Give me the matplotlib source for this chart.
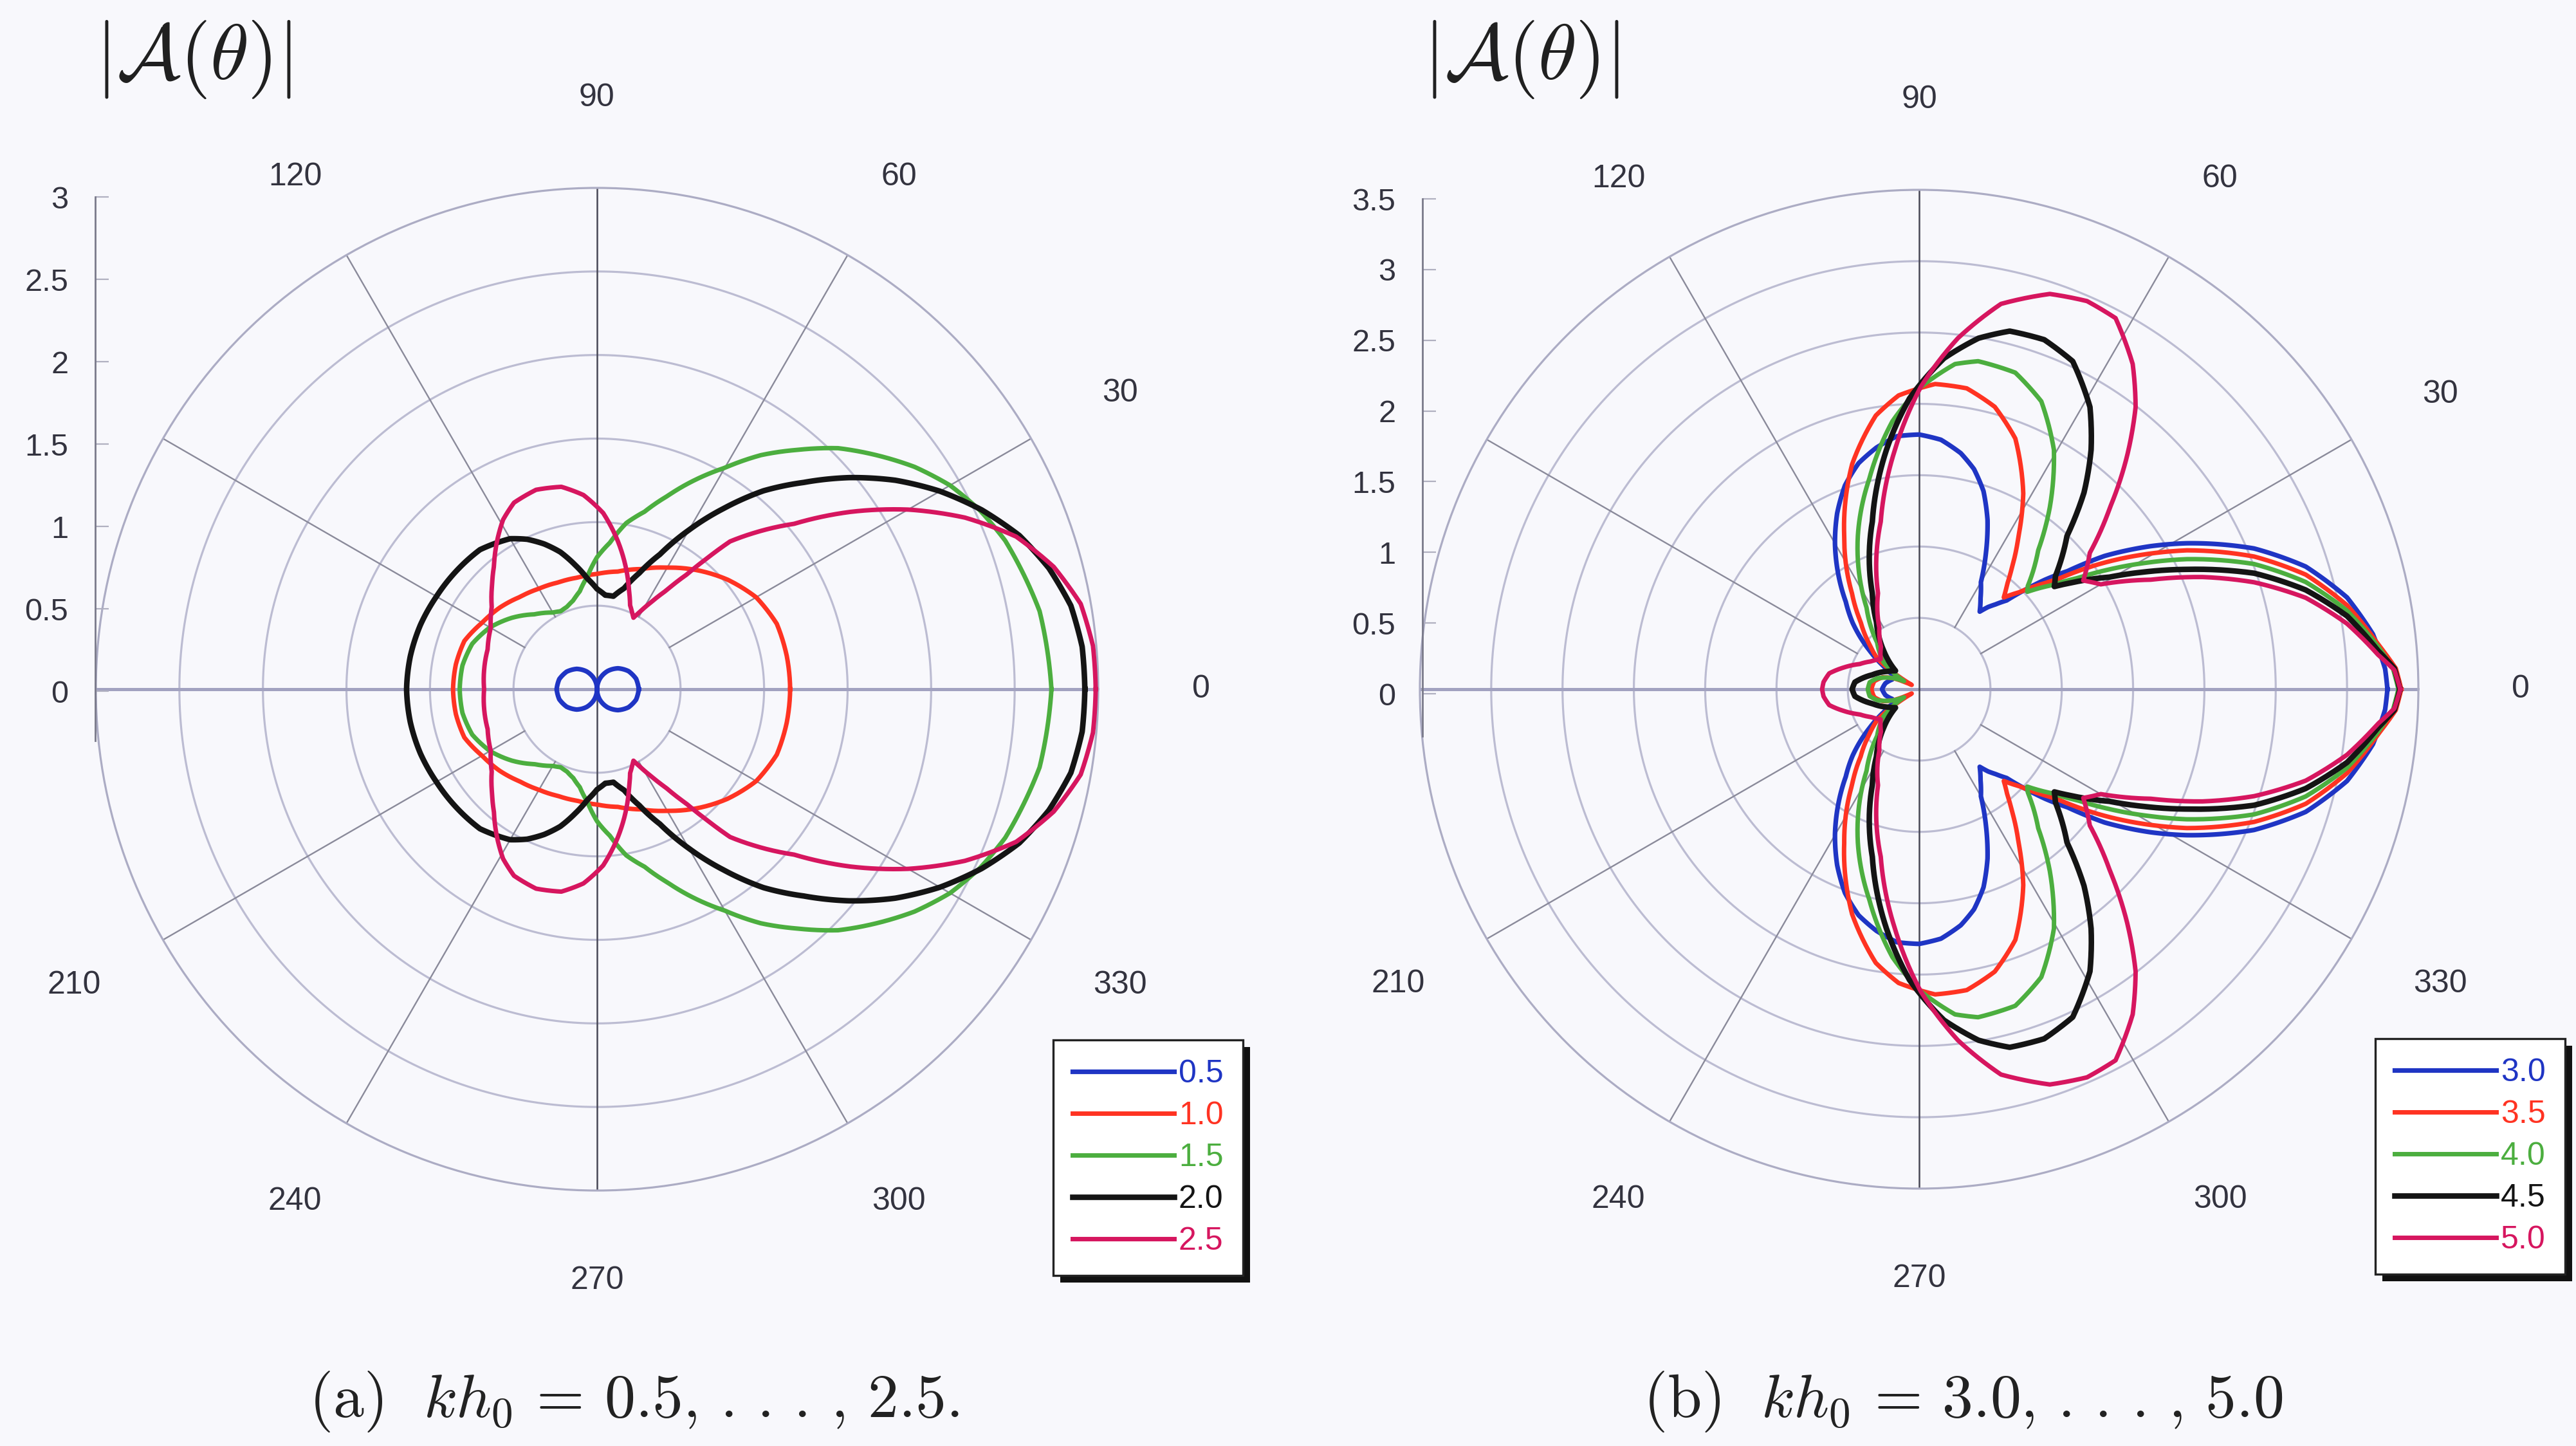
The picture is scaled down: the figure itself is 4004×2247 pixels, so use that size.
import numpy as np
import matplotlib
matplotlib.use('Agg')
import matplotlib.pyplot as plt
from matplotlib.patches import Rectangle

plt.rcParams['mathtext.fontset'] = 'cm'
plt.rcParams['font.family'] = ['Liberation Sans', 'DejaVu Sans']

# ---------------- data: upper half (0..180 deg); curves are symmetric ----------------
# Panel (a): kh0 = 0.5 ... 2.5
A_TH_05 = [0, 15, 30, 45, 60, 75, 90, 105, 120, 135, 150, 165, 180]
A_R_05 = [0.25, 0.242, 0.217, 0.177, 0.125, 0.065, 0.0, 0.063, 0.122, 0.172, 0.21, 0.234, 0.242]

A_TH_10 = [0, 10, 20, 30, 40, 50, 60, 70, 80, 90, 100, 110, 120, 130, 140, 150, 160, 170, 180]
A_R_10 = [1.156, 1.153, 1.145, 1.10, 1.02, 0.93, 0.84, 0.765, 0.715, 0.69, 0.678, 0.68, 0.695,
          0.72, 0.76, 0.795, 0.845, 0.858, 0.862]

A_TH_15 = [0, 10, 20, 25, 30, 35, 40, 45, 50, 55, 60, 65, 70, 75, 80, 85, 90, 95, 100, 105,
           110, 115, 120, 130, 140, 150, 160, 170, 180]
A_R_15 = [2.72, 2.69, 2.60, 2.53, 2.44, 2.32, 2.18, 2.04, 1.87, 1.71, 1.53, 1.38, 1.23, 1.10,
          1.01, 0.88, 0.79, 0.675, 0.595, 0.55, 0.525, 0.515, 0.53, 0.585, 0.665, 0.74, 0.795,
          0.818, 0.822]

A_TH_20 = [0, 5, 10, 15, 20, 25, 30, 35, 40, 45, 50, 55, 60, 65, 70, 75, 80, 85, 90, 95, 100,
           105, 110, 115, 120, 130, 140, 150, 160, 170, 180]
A_R_20 = [2.92, 2.915, 2.88, 2.80, 2.69, 2.54, 2.37, 2.18, 1.97, 1.75, 1.55, 1.32, 1.10, 0.89,
          0.74, 0.625, 0.565, 0.565, 0.60, 0.665, 0.755, 0.85, 0.925, 0.99, 1.04, 1.09, 1.10,
          1.11, 1.125, 1.135, 1.14]

A_TH_25 = [0, 5, 10, 15, 20, 25, 30, 35, 40, 45, 48, 50, 52, 55, 58, 61, 63, 65, 68.5, 72, 76,
           82, 88, 94, 100, 107, 114, 119, 124, 130, 135, 142, 150, 160, 170, 180]
A_R_25 = [2.985, 2.98, 2.94, 2.83, 2.67, 2.43, 2.15, 1.85, 1.54, 1.32, 1.19, 1.02, 0.87, 0.72,
          0.617, 0.53, 0.48, 0.50, 0.54, 0.62, 0.73, 0.895, 1.055, 1.165, 1.23, 1.248, 1.222,
          1.16, 1.07, 0.96, 0.888, 0.80, 0.735, 0.697, 0.686, 0.676]

# Panel (b): kh0 = 3.0 ... 5.0
B_TH_30 = [0, 2.5, 6.9, 12.1, 17.6, 22.8, 28.6, 31.7, 35.7, 38.5, 41, 43, 45.4, 48, 50, 52, 56,
           60, 64, 68, 72, 76, 80, 85, 90, 95, 100, 105, 110, 115, 120, 125, 130, 135, 142,
           147, 152, 160, 170, 180]
B_R_30 = [3.283, 3.27, 3.205, 3.068, 2.843, 2.546, 2.137, 1.908, 1.60, 1.33, 1.17, 1.03, 0.874,
          0.80, 0.752, 0.69, 0.77, 0.866, 1.07, 1.28, 1.46, 1.59, 1.68, 1.755, 1.785, 1.78,
          1.72, 1.64, 1.52, 1.36, 1.18, 0.99, 0.80, 0.66, 0.442, 0.30, 0.20, 0.20, 0.24, 0.26]

B_TH_35 = [0, 2.5, 5.6, 11.1, 16.5, 21.6, 27.4, 30, 33.6, 35, 38.4, 40, 42, 44, 47.3, 50, 52.6,
           57, 62, 69, 75, 81, 87, 94, 99, 106.6, 116, 125, 131, 138, 144, 147, 150, 153, 157,
           162, 170, 180]
B_R_35 = [3.38, 3.345, 3.233, 3.057, 2.827, 2.526, 2.115, 1.91, 1.63, 1.52, 1.245, 1.16, 1.07,
          0.98, 0.875, 0.96, 1.07, 1.279, 1.555, 1.882, 2.049, 2.135, 2.142, 2.064, 1.942,
          1.645, 1.198, 0.821, 0.625, 0.468, 0.358, 0.22, 0.06, 0.10, 0.20, 0.27, 0.32, 0.335]

B_TH_40 = [0, 2.5, 5.3, 10.4, 15.5, 20.5, 25.9, 29, 32.2, 35, 38, 42, 43.5, 46, 49.4, 54.3,
           60.6, 67, 73.1, 79.8, 83.7, 89.7, 95.7, 103.3, 111.8, 122.8, 132, 142.5, 148, 152,
           157, 165, 172, 180]
B_R_40 = [3.36, 3.325, 3.231, 3.05, 2.812, 2.506, 2.087, 1.83, 1.576, 1.36, 1.186, 1.02, 1.05,
          1.15, 1.283, 1.57, 1.925, 2.192, 2.319, 2.336, 2.293, 2.118, 1.887, 1.517, 1.157,
          0.681, 0.44, 0.314, 0.20, 0.12, 0.20, 0.30, 0.35, 0.36]

B_TH_45 = [0, 2.5, 4.8, 9.7, 14.4, 19.1, 24.1, 27.5, 30.5, 33, 35, 37.2, 39.7, 46, 50, 54.3,
           58.8, 64.9, 70.3, 75.8, 80.4, 85.7, 91.9, 97.8, 105.6, 116, 122.4, 132.6, 142, 150,
           157, 163, 173.7, 180]
B_R_45 = [3.37, 3.335, 3.228, 3.044, 2.798, 2.485, 2.057, 1.78, 1.548, 1.41, 1.30, 1.19, 1.242,
          1.492, 1.798, 2.066, 2.312, 2.538, 2.602, 2.589, 2.495, 2.326, 2.039, 1.692, 1.22,
          0.749, 0.559, 0.368, 0.21, 0.25, 0.30, 0.344, 0.453, 0.47]

B_TH_50 = [0, 2.3, 4.3, 8.7, 13.3, 17.7, 21.6, 25.3, 30, 33.5, 38.6, 43.6, 48.3, 52.5, 56.7,
           62.1, 66.6, 71.7, 78, 83.7, 89.7, 95.8, 102.9, 113.2, 122.9, 132, 141.9, 150, 157,
           164, 170, 175.7, 180]
B_R_50 = [3.373, 3.335, 3.226, 3.035, 2.785, 2.465, 2.136, 1.796, 1.47, 1.38, 1.531, 1.848,
          2.192, 2.493, 2.727, 2.943, 2.964, 2.918, 2.761, 2.475, 2.118, 1.685, 1.205, 0.732,
          0.514, 0.40, 0.342, 0.39, 0.452, 0.551, 0.64, 0.672, 0.68]

A_LABELS = ['0.5', '1.0', '1.5', '2.0', '2.5']
B_LABELS = ['3.0', '3.5', '4.0', '4.5', '5.0']
A_TICKS = [0, 0.5, 1, 1.5, 2, 2.5, 3]
B_TICKS = [0, 0.5, 1, 1.5, 2, 2.5, 3, 3.5]
A_TICKLABELS = ['0', '0.5', '1', '1.5', '2', '2.5', '3']
B_TICKLABELS = ['0', '0.5', '1', '1.5', '2', '2.5', '3', '3.5']
ANGLE_LABELS = [0, 30, 60, 90, 120, 210, 240, 270, 300, 330]

COLORS = ['#1f35c4', '#ff3322', '#4cae3f', '#141414', '#d6165f']
LWS = [5.2, 5.0, 5.0, 6.2, 5.0]

A_CURVES = [(A_TH_05, A_R_05), (A_TH_10, A_R_10), (A_TH_15, A_R_15),
            (A_TH_20, A_R_20), (A_TH_25, A_R_25)]
B_CURVES = [(B_TH_30, B_R_30), (B_TH_35, B_R_35), (B_TH_40, B_R_40),
            (B_TH_45, B_R_45), (B_TH_50, B_R_50)]

# ---------------- figure ----------------
W, H = 4004, 2247
fig = plt.figure(figsize=(W / 100, H / 100), dpi=100)
BG = '#f8f8fc'
fig.patch.set_facecolor(BG)

CIRC = '#bcbcd2'
SPOKE = '#8a8a9a'
TXT = '#33333f'


def fx(px):
    return px / W


def fy(py):
    return 1 - py / H


def full_curve(th, r):
    th = np.asarray(th, float)
    r = np.asarray(r, float)
    t = np.concatenate([th, 360 - th[::-1]])
    rr = np.concatenate([r, r[::-1]])
    return np.deg2rad(t), rr


def polar_panel(cx, cy, R, rmax, curves, labels):
    ax = fig.add_axes([fx(cx - R), fy(cy + R), 2 * R / W, 2 * R / H], projection='polar')
    ax.set_facecolor('none')
    ax.set_ylim(0, rmax)
    ax.set_xticks([])
    ax.set_yticks([])
    ax.grid(False)
    ax.spines['polar'].set_color('#acacc4')
    ax.spines['polar'].set_linewidth(2.3)
    t = np.linspace(0, 2 * np.pi, 721)
    for rr in np.arange(0.5, rmax - 0.01, 0.5):
        ax.plot(t, np.full_like(t, rr), color=CIRC, lw=2.3, zorder=1)
    for a in [30, 60, 120, 150, 210, 240, 300, 330]:
        ax.plot([np.deg2rad(a)] * 2, [0.5, rmax], color=SPOKE, lw=1.7, zorder=1)
    for a in [0, 180]:
        ax.plot([np.deg2rad(a)] * 2, [0, rmax], color='#a2a2c0', lw=3.6, zorder=1)
    for a in [90, 270]:
        ax.plot([np.deg2rad(a)] * 2, [0, rmax], color='#474755', lw=1.8, zorder=1)
    for a in ANGLE_LABELS:
        ang = np.deg2rad(a)
        ax.text(0.5 + 0.5 * 1.205 * np.cos(ang), 0.5 + 0.5 * 1.18 * np.sin(ang), str(a),
                transform=ax.transAxes, ha='center', va='center',
                fontsize=36, color=TXT, clip_on=False)
    handles = []
    for (th, r), c, lw, lab in zip(curves, COLORS, LWS, labels):
        tt, rr = full_curve(th, r)
        h, = ax.plot(tt, rr, color=c, lw=lw, label=lab, zorder=3,
                     solid_joinstyle='round')
        # let the polar transform draw each segment as a curve rather than a chord
        h.get_path()._interpolation_steps = 24
        handles.append(h)
    return ax, handles


def radial_axis(xline, y0, pxunit, rmax, ticks, ticklabels):
    ext = 0.3
    ytop = y0 - rmax * pxunit
    ybot = y0 + ext * pxunit
    rax = fig.add_axes([fx(xline), fy(ybot), 0.02, (ybot - ytop) / H])
    rax.set_facecolor('none')
    rax.set_ylim(-ext, rmax)
    rax.set_xlim(0, 1)
    for s in ['top', 'right', 'bottom']:
        rax.spines[s].set_visible(False)
    rax.spines['left'].set_color('#7a7a8a')
    rax.spines['left'].set_linewidth(2.0)
    rax.set_xticks([])
    rax.set_yticks(ticks)
    rax.set_yticklabels(ticklabels)
    rax.tick_params(axis='y', direction='in', length=15, width=1.6, color='#b0b0c0',
                    pad=30, labelsize=35, labelcolor=TXT)
    return rax


# left panel
axA, hA = polar_panel(928, 1071, 779, 3.0, A_CURVES, A_LABELS)
radial_axis(148, 1074, 256, 3.0, A_TICKS, A_TICKLABELS)
# right panel
axB, hB = polar_panel(2983, 1071, 776, 3.5, B_CURVES, B_LABELS)
radial_axis(2211, 1078, 219.7, 3.5, B_TICKS, B_TICKLABELS)

# titles
fig.text(fx(148), fy(92), r'$|\mathcal{A}(\theta)|$', fontsize=88, ha='left', va='center',
         color='#202020')
fig.text(fx(2212), fy(92), r'$|\mathcal{A}(\theta)|$', fontsize=88, ha='left', va='center',
         color='#202020')

# captions
fig.text(fx(480), fy(2178), r'$\mathrm{(a)}\ \ kh_0\, =\, 0.5,\,.\,.\,.\,,\,2.5.$',
         fontsize=69, ha='left', va='center', color='#222222')
fig.text(fx(2554), fy(2178), r'$\mathrm{(b)}\ \ kh_0\, =\, 3.0,\,.\,.\,.\,,\,5.0$',
         fontsize=69, ha='left', va='center', color='#222222')

# legends
legs = []
for handles, labels, (lx, ly) in [(hA, A_LABELS, (1637, 1616)), (hB, B_LABELS, (3692, 1614))]:
    leg = fig.legend(handles, labels, loc='upper left', bbox_to_anchor=(fx(lx), fy(ly)),
                     bbox_transform=fig.transFigure, frameon=True, fancybox=False,
                     edgecolor='#222222', facecolor='white', framealpha=1, fontsize=36,
                     labelcolor='linecolor', handlelength=3.15, handletextpad=0.15,
                     labelspacing=0.38, borderpad=0.6, borderaxespad=0)
    leg.get_frame().set_linewidth(2.4)
    legs.append(leg)

fig.canvas.draw()
for leg in legs:
    bb = leg.get_window_extent()
    off = 11
    rect = Rectangle((fx(bb.x0 + off), (bb.y0 - off) / H), bb.width / W, bb.height / H,
                     transform=fig.transFigure, facecolor='#111111', edgecolor='none',
                     zorder=4.5)
    fig.patches.append(rect)

fig.savefig('out.png', dpi=100, facecolor=BG)
